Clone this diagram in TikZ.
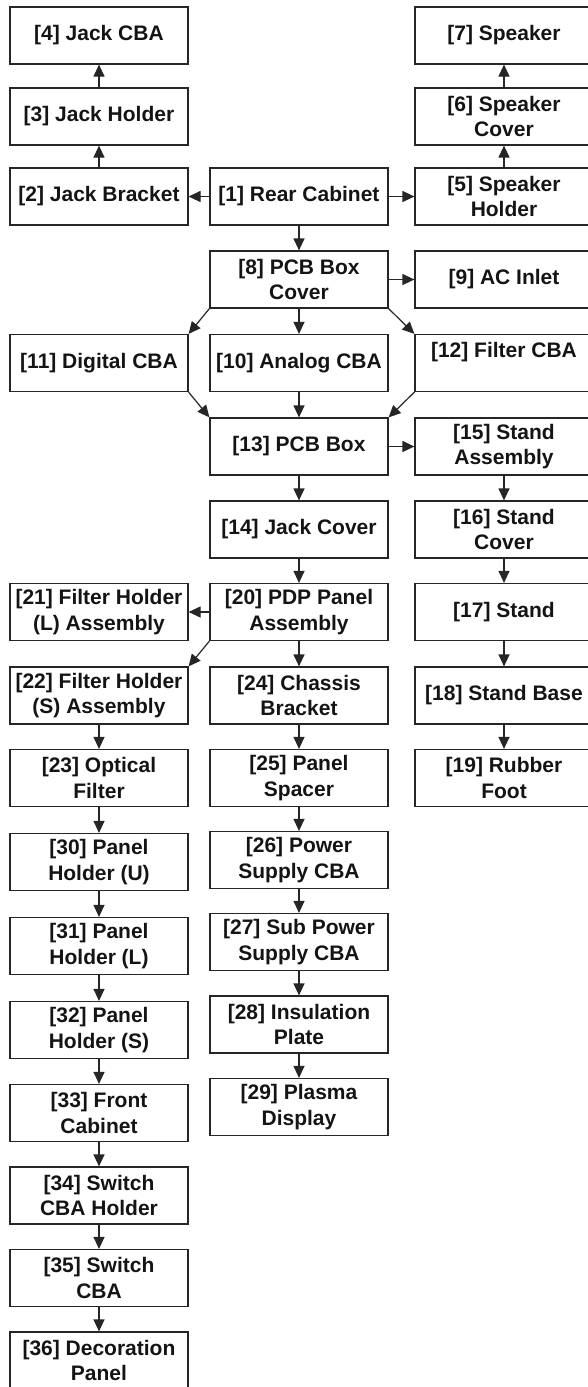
\documentclass[tikz,border=0pt]{standalone}
\usepackage{fontspec}
\setmainfont{Liberation Sans}
\usetikzlibrary{arrows.meta}

\begin{document}
\begin{tikzpicture}[x=1pt, y=-1pt,
  part/.style={draw=black!85, line width=1.2pt, minimum width=178pt,
    minimum height=57pt, inner sep=0pt, align=center, text=black!92,
    font=\fontsize{21}{25.5}\selectfont\bfseries},
  arr/.style={draw=black!85, line width=1.2pt, -{Triangle[length=12pt, width=11pt]}}]
  \useasboundingbox (0,0) rectangle (588,1387);
  % ---------- top rows ----------
  \node[part] (n4) at (99,35.5) {[4] Jack CBA};
  \node[part] (n7) at (504,35.5) {[7] Speaker};
  \node[part] (n3) at (99,116.5) {[3] Jack Holder};
  \node[part] (n6) at (504,116.5) {[6] Speaker\\Cover};
  \node[part] (n2) at (99,196.5) {[2] Jack Bracket};
  \node[part] (n1) at (299,196.5) {[1] Rear Cabinet};
  \node[part] (n5) at (504,196.5) {[5] Speaker\\Holder};
  % ---------- PCB box ----------
  \node[part] (n8) at (299,279.5) {[8] PCB Box\\Cover};
  \node[part] (n9) at (504,279.5) {[9] AC Inlet};
  \node[part] (n11) at (99,363) {[11] Digital CBA};
  \node[part] (n10) at (299,363) {[10] Analog CBA};
  \node[part] (n12) at (504,363) {[12] Filter CBA\\\mbox{}};
  \node[part] (n13) at (299,446.5) {[13] PCB Box};
  \node[part] (n15) at (504,446.5) {[15] Stand\\Assembly};
  \node[part] (n14) at (299,529.5) {[14] Jack Cover};
  \node[part] (n16) at (504,529.5) {[16] Stand\\Cover};
  % ---------- panel ----------
  \node[part] (n21) at (99,612) {[21] Filter Holder\\(L) Assembly};
  \node[part] (n20) at (299,612) {[20] PDP Panel\\Assembly};
  \node[part] (n17) at (504,612) {[17] Stand};
  \node[part] (n22) at (99,695.5) {[22] Filter Holder\\(S) Assembly};
  \node[part] (n24) at (299,695.5) {[24] Chassis\\Bracket};
  \node[part] (n18) at (504,695.5) {[18] Stand Base};
  \node[part] (n23) at (99,778) {[23] Optical\\Filter};
  \node[part] (n25) at (299,778) {[25] Panel\\Spacer};
  \node[part] (n19) at (504,778) {[19] Rubber\\Foot};
  \node[part] (n30) at (99,862) {[30] Panel\\Holder (U)};
  \node[part] (n26) at (299,860) {[26] Power\\Supply CBA};
  \node[part] (n31) at (99,946) {[31] Panel\\Holder (L)};
  \node[part] (n27) at (299,942) {[27] Sub Power\\Supply CBA};
  \node[part] (n32) at (99,1030) {[32] Panel\\Holder (S)};
  \node[part] (n28) at (299,1024.5) {[28] Insulation\\Plate};
  \node[part] (n29) at (299,1107) {[29] Plasma\\Display};
  \node[part] (n33) at (99,1113) {[33] Front\\Cabinet};
  \node[part] (n34) at (99,1195.5) {[34] Switch\\CBA Holder};
  \node[part] (n35) at (99,1278) {[35] Switch\\CBA};
  \node[part] (n36) at (99,1360.5) {[36] Decoration\\Panel};
  % ---------- arrows ----------
  \draw[arr] (n3) -- (n4);
  \draw[arr] (n2) -- (n3);
  \draw[arr] (n5) -- (n6);
  \draw[arr] (n6) -- (n7);
  \draw[arr] (n1) -- (n2);
  \draw[arr] (n1) -- (n5);
  \draw[arr] (n1) -- (n8);
  \draw[arr] (n8) -- (n9);
  \draw[arr] (n8) -- (n10);
  \draw[arr] (n8.south west) -- (n11.north east);
  \draw[arr] (n8.south east) -- (n12.north west);
  \draw[arr] (n10) -- (n13);
  \draw[arr] (n11.south east) -- (n13.north west);
  \draw[arr] (n12.south west) -- (n13.north east);
  \draw[arr] (n13) -- (n15);
  \draw[arr] (n13) -- (n14);
  \draw[arr] (n15) -- (n16);
  \draw[arr] (n16) -- (n17);
  \draw[arr] (n17) -- (n18);
  \draw[arr] (n18) -- (n19);
  \draw[arr] (n14) -- (n20);
  \draw[arr] (n20) -- (n21);
  \draw[arr] (n20.south west) -- (n22.north east);
  \draw[arr] (n20) -- (n24);
  \draw[arr] (n24) -- (n25);
  \draw[arr] (n25) -- (n26);
  \draw[arr] (n26) -- (n27);
  \draw[arr] (n27) -- (n28);
  \draw[arr] (n28) -- (n29);
  \draw[arr] (n22) -- (n23);
  \draw[arr] (n23) -- (n30);
  \draw[arr] (n30) -- (n31);
  \draw[arr] (n31) -- (n32);
  \draw[arr] (n32) -- (n33);
  \draw[arr] (n33) -- (n34);
  \draw[arr] (n34) -- (n35);
  \draw[arr] (n35) -- (n36);
\end{tikzpicture}
\end{document}
